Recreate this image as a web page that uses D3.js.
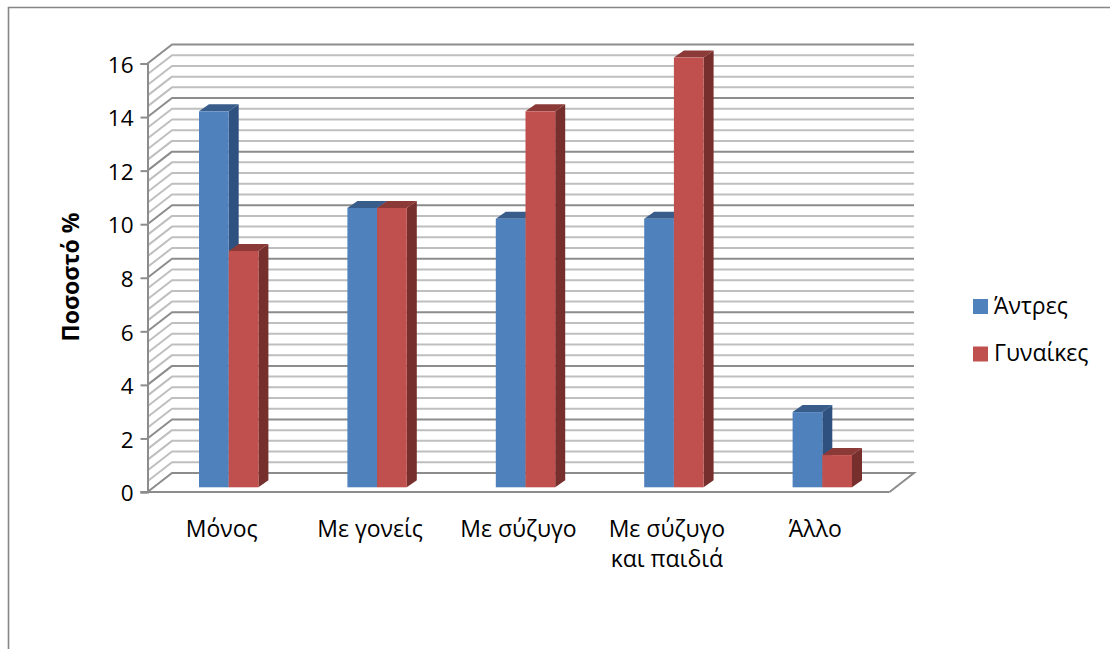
<!DOCTYPE html>
<html>
<head>
<meta charset="utf-8">
<script src="https://cdn.jsdelivr.net/npm/d3@7/dist/d3.min.js"></script>
<style>
html,body{margin:0;padding:0;background:#fff;}
svg{display:block;}
text{font-family:"Open Sans","Noto Sans",sans-serif;fill:#000;}
</style>
</head>
<body>
<svg id="chart" width="1110" height="649"></svg>
<script>
// Living arrangements by sex, percent of respondents
const categories = [["Μόνος"], ["Με γονείς"], ["Με σύζυγο"], ["Με σύζυγο", "και παιδιά"], ["Άλλο"]];
const seriesNames = ["Άντρες", "Γυναίκες"];
const men = [14, 10.4, 10, 10, 2.8];
const women = [8.8, 10.4, 14, 16, 1.2];
const yTicks = [0, 2, 4, 6, 8, 10, 12, 14, 16];
const yTitle = "Ποσοστό %";

const frontColors = ["#4f81bd", "#c0504d"];
const topColors = ["#385d8a", "#8c3a38"];
const sideColors = ["#2f5180", "#772f2d"];

const svg = d3.select("#chart");

// frame of the chart area: only top and left edges are visible
svg.append("path").attr("d", "M8.5,649V7.5H1110")
  .attr("fill", "none").attr("stroke", "#868686").attr("stroke-width", 1.6);

// plot geometry of the pseudo-3D box
const plotLeft = 147.5, plotRight = 889.5, plotBottom = 492, plotTop = 63.5;
const wallDx = 24.5, wallDy = -19;   // offset of the back wall
const barDx = 10, barDy = -7;        // depth of a bar

const x = d3.scaleBand().domain(d3.range(categories.length)).range([plotLeft, plotRight]);
const y = d3.scaleLinear().domain([0, 16]).range([plotBottom, plotTop]);
// bars stand further back inside the box, so they run on their own slightly offset scale
const yBar = d3.scaleLinear().domain([0, 16]).range([487.3, 57.6]);
const inner = d3.scaleBand().domain([0, 1]).range([0, 59.4]);

// gridlines on the back and side walls, a minor step of 0.4
const gridGroup = svg.append("g").attr("fill", "none").attr("stroke-linejoin", "round");
d3.range(1, 41).forEach(i => {
  const v = i * 0.4;
  gridGroup.append("path")
    .attr("d", `M${plotLeft},${y(v)}L${plotLeft + wallDx},${y(v) + wallDy}H${plotRight + wallDx}`)
    .attr("stroke", i % 5 === 0 ? "#8c8c8c" : "#bfbfbf")
    .attr("stroke-width", 2);
});

// floor outline
svg.append("path")
  .attr("d", `M${plotLeft},${plotBottom}L${plotLeft + wallDx},${plotBottom + wallDy}H${plotRight + wallDx}L${plotRight},${plotBottom}`)
  .attr("fill", "#fff").attr("stroke", "#8c8c8c").attr("stroke-width", 2);

// value axis
const yAxis = d3.axisLeft(y).tickValues(yTicks).tickSize(7).tickPadding(7).tickFormat(d3.format("d"));
const yG = svg.append("g").attr("transform", `translate(${plotLeft},0)`).call(yAxis);
yG.selectAll("path,line").attr("stroke", "#8c8c8c").attr("stroke-width", 2);
yG.selectAll("text").attr("font-size", 22.5).attr("y", 1.5);

// category baseline
svg.append("line").attr("x1", plotLeft - 7).attr("x2", plotRight)
  .attr("y1", plotBottom).attr("y2", plotBottom)
  .attr("stroke", "#8c8c8c").attr("stroke-width", 2);

// one block for a value: side and top faces first, then the front
function drawBar(g, cat, s, v) {
  const x0 = x(cat) + 51.5 + inner(s);
  const w = inner.bandwidth();
  const yTop = yBar(v), yBase = yBar(0);
  g.append("path")
    .attr("d", `M${x0 + w},${yTop}l${barDx},${barDy}V${yBase + barDy}l${-barDx},${-barDy}Z`)
    .attr("fill", sideColors[s]);
  g.append("path")
    .attr("d", `M${x0},${yTop}l${barDx},${barDy}h${w}l${-barDx},${-barDy}Z`)
    .attr("fill", topColors[s]);
  g.append("rect").attr("x", x0).attr("y", yTop).attr("width", w).attr("height", yBase - yTop)
    .attr("fill", frontColors[s]);
}

const bars = svg.append("g");
categories.forEach((c, i) => {
  drawBar(bars, i, 0, men[i]);
  drawBar(bars, i, 1, women[i]);
});

// category labels, wrapped on two lines where needed
const catG = svg.append("g").attr("text-anchor", "middle").attr("font-size", 23);
categories.forEach((lines, i) => {
  lines.forEach((line, j) => {
    catG.append("text")
      .attr("x", x(i) + x.bandwidth() / 2)
      .attr("y", 537 + j * 30)
      .text(line);
  });
});

// axis title
svg.append("text")
  .attr("transform", "translate(79,277) rotate(-90)")
  .attr("text-anchor", "middle")
  .attr("font-size", 23).attr("font-weight", 700)
  .text(yTitle);

// legend
const legendY = d3.scalePoint().domain([0, 1]).range([306.5, 354]);
seriesNames.forEach((name, i) => {
  svg.append("rect").attr("x", 973).attr("y", legendY(i) - 7.5).attr("width", 15).attr("height", 15)
    .attr("fill", frontColors[i]);
  svg.append("text").attr("x", 994).attr("y", legendY(i) + 7).attr("font-size", 23).text(name);
});
</script>
</body>
</html>
